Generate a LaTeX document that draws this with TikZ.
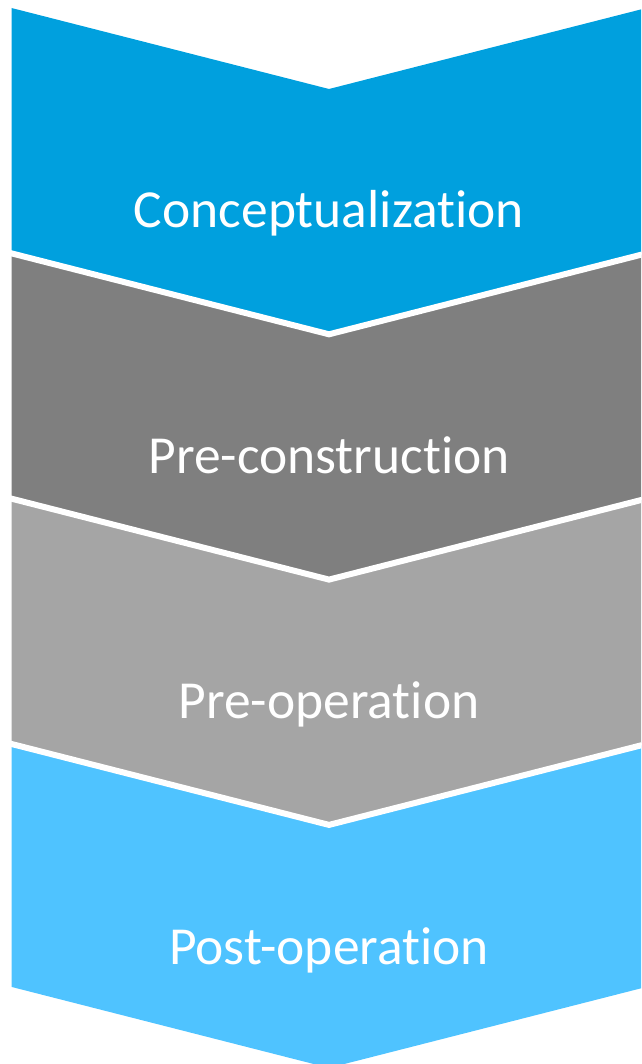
\documentclass[tikz,border=0pt]{standalone}
\usepackage{fontspec}
\setmainfont{Carlito}[Ligatures={NoCommon}]
\definecolor{cblue}{HTML}{00A0DE}
\definecolor{cdgray}{HTML}{7F7F7F}
\definecolor{clgray}{HTML}{A5A5A5}
\definecolor{clblue}{HTML}{4FC3FF}
\tikzset{
  label/.style={text=white, font=\fontsize{53.5}{62}\selectfont, anchor=base, inner sep=0pt},
  sep/.style={draw=white, line width=6pt}
}
\begin{document}
\begin{tikzpicture}[x=1pt,y=-1pt]
\useasboundingbox (0,0) rectangle (641,1064);
\clip (0,0) rectangle (641,1064);
\def\P{245.3}
\foreach \i/\c in {0/cblue,1/cdgray,2/clgray,3/clblue}{
  \pgfmathsetmacro{\t}{8+\P*\i}
  \fill[\c] (11.5,\t) -- (329,\t+81) -- (646.5,\t) -- (646.5,\t+243) -- (329,\t+324) -- (11.5,\t+243) -- cycle;
  \ifnum\i>0
    \draw[sep] (5,\t-1.6) -- (329,\t+81) -- (653,\t-1.6);
  \fi
}
\node[label] (n1) at (329,228) {Conceptualization};
\node[label] (n2) at (329,473) {Pre-construction};
\node[label] (n3) at (329,718) {Pre-operation};
\node[label] (n4) at (329,964) {Post-operation};
\end{tikzpicture}
\end{document}
